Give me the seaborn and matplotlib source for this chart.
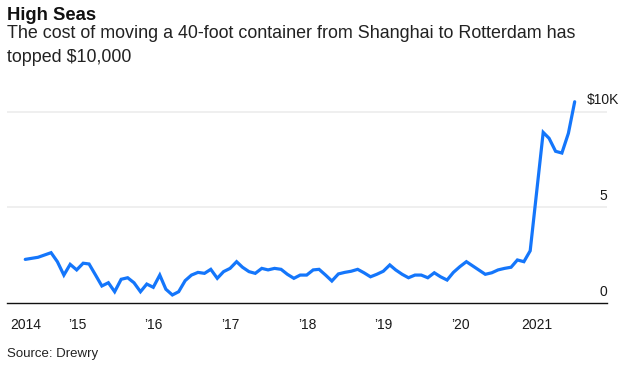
import matplotlib
matplotlib.use("Agg")
import matplotlib.pyplot as plt
import seaborn as sns
import pandas as pd

# ---- data (Drewry WCI Shanghai-Rotterdam, $ thousands per 40ft container) ----
months = [
    "2014-04", "2014-06", "2014-08", "2014-09", "2014-10", "2014-11", "2014-12",
    "2015-01", "2015-02", "2015-03", "2015-04", "2015-05", "2015-06", "2015-07",
    "2015-08", "2015-09", "2015-10", "2015-11", "2015-12",
    "2016-01", "2016-02", "2016-03", "2016-04", "2016-05", "2016-06", "2016-07",
    "2016-08", "2016-09", "2016-10", "2016-11", "2016-12",
    "2017-01", "2017-02", "2017-03", "2017-04", "2017-05", "2017-06", "2017-07",
    "2017-08", "2017-09", "2017-10", "2017-11", "2017-12",
    "2018-01", "2018-02", "2018-03", "2018-04", "2018-05", "2018-06", "2018-07",
    "2018-08", "2018-09", "2018-10", "2018-11", "2018-12",
    "2019-01", "2019-02", "2019-03", "2019-04", "2019-05", "2019-06", "2019-07",
    "2019-08", "2019-09", "2019-10", "2019-11", "2019-12",
    "2020-01", "2020-04", "2020-05", "2020-06", "2020-07", "2020-08", "2020-09",
    "2020-10", "2020-11",
    "2021-01", "2021-02", "2021-03", "2021-04", "2021-05", "2021-06",
]
values = [
    2.28, 2.39, 2.63, 2.16, 1.46, 2.02, 1.73,
    2.08, 2.04, 1.46, 0.89, 1.06, 0.59, 1.24,
    1.32, 1.06, 0.59, 0.99, 0.82,
    1.46, 0.72, 0.42, 0.59, 1.17, 1.46, 1.60,
    1.55, 1.76, 1.29, 1.64, 1.81,
    2.16, 1.87, 1.64, 1.55, 1.81, 1.73, 1.81,
    1.76, 1.50, 1.29, 1.46, 1.46,
    1.73, 1.76, 1.46, 1.15, 1.52, 1.60, 1.66,
    1.76, 1.58, 1.37, 1.50, 1.66,
    1.99, 1.73, 1.50, 1.32, 1.46, 1.46, 1.32,
    1.58, 1.37, 1.20, 1.60, 1.90,
    2.16, 1.50, 1.58, 1.73, 1.81, 1.87, 2.25,
    2.16, 2.73,
    8.92, 8.61, 7.93, 7.84, 8.87, 10.52,
]
xtick_years = ["2015", "2016", "2017", "2018", "2019", "2020", "2021"]
xtick_labels = ["2014", "\u201915", "\u201916", "\u201917", "\u201918", "\u201919", "\u201920", "2021"]
ytick_values = [0, 5, 10]
ytick_labels = ["0", "5", "$10K"]

title = "High Seas"
subtitle_lines = ["The cost of moving a 40-foot container from Shanghai to Rotterdam has",
                  "topped $10,000"]
source = "Source: Drewry"

# ---- build frame ----
df = pd.DataFrame({
    "date": pd.to_datetime(months) + pd.offsets.MonthEnd(0),
    "value": values,
})

sns.set_theme(style="white")
plt.rcParams["font.family"] = ["Liberation Sans", "DejaVu Sans"]

fig = plt.figure(figsize=(6.28, 3.66), dpi=100)
ax = fig.add_axes([7 / 628, 1 - 303 / 366, 600 / 628, (303 - 92) / 366])

sns.lineplot(data=df, x="date", y="value", ax=ax, color="#1476fb",
             linewidth=2.3, solid_joinstyle="miter", zorder=3)

ax.set_ylim(0, 11.03)
ax.set_xlim(pd.Timestamp("2014-02-02"), pd.Timestamp("2021-12-01"))

# x ticks: first at data start, then each January
xt = [df["date"].iloc[0]] + [pd.Timestamp(y + "-01-01") for y in xtick_years]
ax.set_xticks(xt)
ax.set_xticklabels(xtick_labels)
ax.tick_params(axis="x", length=6, width=1, color="#555555", pad=5,
               labelsize=10, labelcolor="#1a1a1a", direction="out")
ax.set_yticks([])

# gridlines
for v in ytick_values[1:]:
    ax.axhline(v, color="#ececec", linewidth=1.2, zorder=1)

# y labels sitting above gridlines on the right
for v, lab in zip(ytick_values, ytick_labels):
    xpos = 1.02 if lab.endswith("K") else 1.0
    ax.text(xpos, v + 0.22, lab, transform=ax.get_yaxis_transform(), ha="right",
            va="bottom", fontsize=10, color="#1a1a1a")

for s in ["top", "right", "left"]:
    ax.spines[s].set_visible(False)
ax.spines["bottom"].set_color("#111111")
ax.spines["bottom"].set_linewidth(1.0)
ax.set_xlabel("")
ax.set_ylabel("")
ax.set_facecolor("white")

fig.text(7 / 628, 1 - 20 / 366, title, fontsize=13.3, fontweight="bold",
         color="#111111", ha="left", va="baseline")
fig.text(7 / 628, 1 - 38 / 366, subtitle_lines[0], fontsize=12.9,
         color="#222222", ha="left", va="baseline")
fig.text(7 / 628, 1 - 61.5 / 366, subtitle_lines[1], fontsize=12.9,
         color="#222222", ha="left", va="baseline")
fig.text(7 / 628, 1 - 357 / 366, source, fontsize=9.5, color="#222222",
         ha="left", va="baseline")

fig.savefig("out.png", dpi=100, facecolor="white")
